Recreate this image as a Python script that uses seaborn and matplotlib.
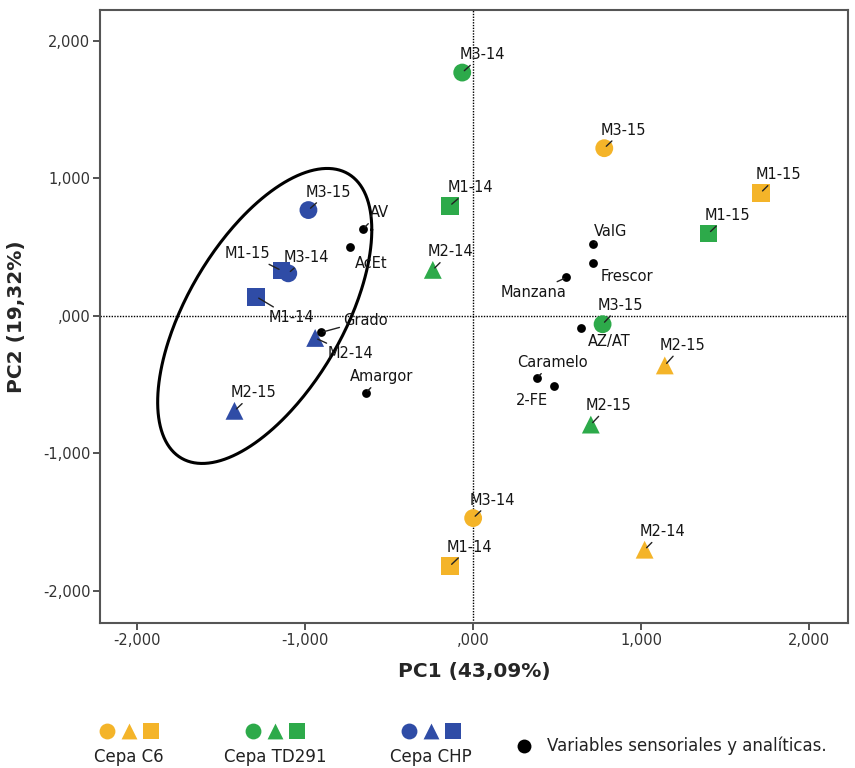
import numpy as np
import pandas as pd
import matplotlib
matplotlib.use("Agg")
import matplotlib.pyplot as plt
from matplotlib.ticker import FuncFormatter, FixedLocator
import seaborn as sns

# muestras (cepa / tratamiento) sobre PC1 y PC2
cepa = ["C6"] * 6 + ["TD291"] * 6 + ["CHP"] * 6
muestra = ["M3-15", "M1-15", "M2-15", "M3-14", "M1-14", "M2-14",
           "M3-14", "M1-14", "M2-14", "M1-15", "M3-15", "M2-15",
           "M3-15", "M1-15", "M3-14", "M1-14", "M2-14", "M2-15"]
pc1 = [0.78, 1.71, 1.14, 0.00, -0.14, 1.02,
       -0.065, -0.14, -0.24, 1.40, 0.77, 0.70,
       -0.98, -1.14, -1.10, -1.29, -0.94, -1.42]
pc2 = [1.22, 0.895, -0.36, -1.47, -1.82, -1.70,
       1.77, 0.80, 0.335, 0.60, -0.06, -0.79,
       0.77, 0.33, 0.31, 0.14, -0.16, -0.69]

# variables sensoriales y analiticas
variables = ["AV", "AcEt", "Grado", "Amargor", "ValG", "Frescor",
             "Manzana", "AZ/AT", "Caramelo", "2-FE"]
var_pc1 = [-0.655, -0.73, -0.905, -0.64, 0.71, 0.71, 0.555, 0.64, 0.38, 0.48]
var_pc2 = [0.633, 0.50, -0.12, -0.56, 0.52, 0.385, 0.28, -0.087, -0.45, -0.51]

ticks = [-2, -1, 0, 1, 2]

# label offsets (pixels, label centre relative to point)
muestra_off = [(19, -18), (18, -18), (18, -20), (19, -18), (20, -19), (18, -18),
               (20, -18), (21, -18), (18, -18), (19, -18), (18, -19), (18, -19),
               (20, -18), (-34, -17), (18, -16), (35, 21), (35, 16), (19, -18)]
var_off = [(16, -16), (21, 16), (44, -12), (16, -16), (18, -13), (34, 13),
           (-33, 15), (29, 14), (15, -15), (-22, 14)]
leader_var = [True, False, True, True, True, False, True, False, True, False]

palette = {"C6": "#F4B429", "TD291": "#2DAA4A", "CHP": "#2F4CA6"}
markers = {"M1": "s", "M2": "^", "M3": "o"}

df = pd.DataFrame({"cepa": cepa, "muestra": muestra, "pc1": pc1, "pc2": pc2})
df["tipo"] = df["muestra"].str[:2]
dv = pd.DataFrame({"var": variables, "pc1": var_pc1, "pc2": var_pc2})

sns.set_style("white")
plt.rcParams["font.family"] = ["DejaVu Sans"]

fig = plt.figure(figsize=(8.55, 7.68), dpi=100)
ax = fig.add_axes([100 / 855, 1 - 623 / 768, 748 / 855, 613 / 768])

ax.axhline(0, color="black", lw=1.0, ls=(0, (1, 1)), zorder=1)
ax.axvline(0, color="black", lw=1.0, ls=(0, (1, 1)), zorder=1)

sns.scatterplot(data=df, x="pc1", y="pc2", hue="cepa", style="tipo",
                palette=palette, markers=markers, s=165, linewidth=0,
                legend=False, ax=ax, zorder=3)
sns.scatterplot(data=dv, x="pc1", y="pc2", color="black", s=40,
                linewidth=0, legend=False, ax=ax, zorder=4)

px2pt = 0.72
for (_, r), (dx, dy) in zip(df.iterrows(), muestra_off):
    ax.annotate(r["muestra"], (r["pc1"], r["pc2"]),
                xytext=(dx * px2pt, -dy * px2pt), textcoords="offset points",
                ha="center", va="center", fontsize=10.5, color="#151515",
                arrowprops=dict(arrowstyle="-", lw=1.0, color="#222222",
                                shrinkA=0, shrinkB=2), zorder=5)
for (_, r), (dx, dy), lead in zip(dv.iterrows(), var_off, leader_var):
    ax.annotate(r["var"], (r["pc1"], r["pc2"]),
                xytext=(dx * px2pt, -dy * px2pt), textcoords="offset points",
                ha="center", va="center", fontsize=10.5, color="#151515",
                arrowprops=dict(arrowstyle="-", lw=1.0, color="#222222",
                                shrinkA=0, shrinkB=2) if lead else None, zorder=5)

# ellipse around CHP group
centro = np.array([-1.24, 0.0])
cov = np.array([[0.4057, 0.399], [0.399, 1.1507]])
t = np.linspace(0, 2 * np.pi, 300)
L = np.linalg.cholesky(cov)
elip = centro[:, None] + L @ np.vstack([np.cos(t), np.sin(t)])
ax.plot(elip[0], elip[1], color="black", lw=2.2, zorder=2)

ax.set_xlim(-2.22, 2.23)
ax.set_ylim(-2.233, 2.225)


def fmt(v, pos):
    s = f"{v:.3f}".replace(".", ",")
    if s.startswith("0"):
        s = s[1:]
    return s


for axis in (ax.xaxis, ax.yaxis):
    axis.set_major_locator(FixedLocator(ticks))
    axis.set_major_formatter(FuncFormatter(fmt))
ax.tick_params(axis="both", which="major", direction="out", length=5, width=1.3,
               color="#444444", labelsize=10.5, labelcolor="#333333",
               bottom=True, left=True, pad=2)
for sp in ax.spines.values():
    sp.set_color("#555555")
    sp.set_linewidth(1.5)

ax.set_xlabel("PC1 (43,09%)", fontsize=14.5, fontweight="bold", labelpad=10)
ax.set_ylabel("PC2 (19,32%)", fontsize=14.5, fontweight="bold", labelpad=12)

# leyenda inferior
lax = fig.add_axes([0, 0, 1, 60 / 768])
lax.set_xlim(0, 855)
lax.set_ylim(768, 708)
lax.axis("off")
grupos = [("C6", "Cepa C6", 107), ("TD291", "Cepa TD291", 253), ("CHP", "Cepa CHP", 409)]
for key, texto, x0 in grupos:
    for i, m in enumerate(["o", "^", "s"]):
        lax.scatter(x0 + i * 22, 731, marker=m, s=130, color=palette[key], linewidth=0)
    lax.text(x0 + 22, 757, texto, ha="center", va="center", fontsize=12,
             color="#222222")
lax.scatter(524, 746, marker="o", s=100, color="black", linewidth=0)
lax.text(547, 746, "Variables sensoriales y analíticas.", ha="left", va="center",
         fontsize=12, color="#222222")

fig.savefig("out.png", dpi=100, facecolor="white")
